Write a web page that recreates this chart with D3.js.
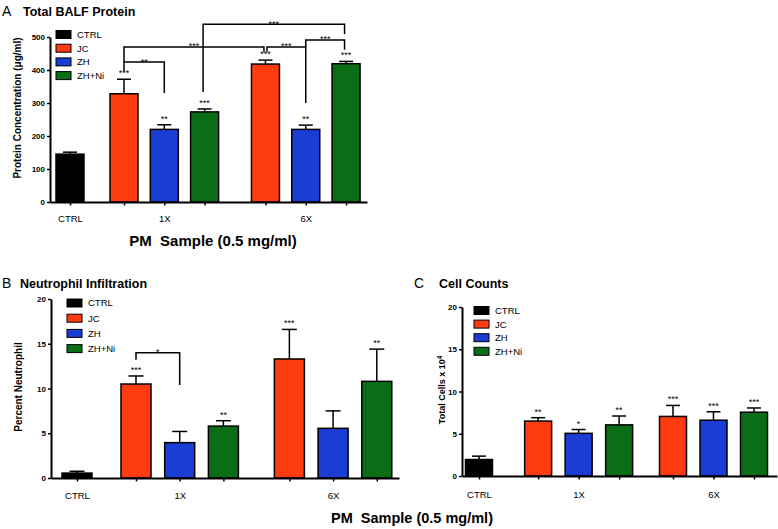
<!DOCTYPE html>
<html><head><meta charset="utf-8">
<script src="https://cdn.jsdelivr.net/npm/d3@7"></script>
<style>body{margin:0;background:#fff} svg{display:block}</style>
</head><body>
<svg id="chart" width="778" height="529"></svg>
<script>
// ---------- data ----------
const categories = ["CTRL", "JC", "ZH", "ZH+Ni"];
const groupLabels = ["CTRL", "1X", "6X"];
const barCategory = [0, 1, 2, 3, 1, 2, 3];   // category of each bar
const barGroup    = [0, 1, 1, 1, 2, 2, 2];   // group of each bar

const proteinMean  = [145, 328, 220, 273, 418, 220, 419];
const proteinSem   = [6, 44, 14, 9, 12, 13, 7];
const proteinStars = ["", "***", "**", "***", "***", "**", "***"];
const proteinTicks = [0, 100, 200, 300, 400, 500];
// [fromBar, toBar, lineValue, leftLegEnd, rightLegEnd, label]
const proteinBrackets = [
  [1, 2, 424, 397, 330, "**"],
  [1, 4, 470, 424, 455, "***"],
  [4, 5, 470, 455, 300, "***"],
  [5, 6, 491, 470, 461, "***"],
  [3, 6, 539, 333, 509, "***"]
];

const neutroMean  = [0.55, 10.5, 3.95, 5.8, 13.3, 5.55, 10.8];
const neutroSem   = [0.2, 0.9, 1.25, 0.6, 3.3, 1.95, 3.6];
const neutroStars = ["", "***", "", "**", "***", "", "**"];
const neutroTicks = [0, 5, 10, 15, 20];
const neutroBrackets = [
  [1, 2, 14.0, 13.2, 10.4, "*"]
];

const cellMean  = [1.95, 6.5, 5.05, 6.05, 7.05, 6.6, 7.55];
const cellSem   = [0.4, 0.4, 0.45, 1.05, 1.3, 1.0, 0.5];
const cellStars = ["", "**", "*", "**", "***", "***", "***"];
const cellTicks = [0, 5, 10, 15, 20];
const cellBrackets = [];

// ---------- styling ----------
const colors = ["#000000", "#ff3b10", "#1a3dd4", "#0a6e16"];
const FONT = "'Liberation Sans', Arial, Helvetica, sans-serif";

const svg = d3.select("#chart");

function drawPanel(cfg) {
  const g = svg.append("g");
  // slot position of each bar, from the group structure
  const slots = barGroup.map((grp, i) => {
    let s = i;
    if (grp >= 1) s += cfg.g1 - 1;
    if (grp >= 2) s += cfg.g2 - 1;
    return s;
  });
  const x = d3.scaleLinear()
    .domain([(cfg.axisX - cfg.x0) / cfg.unit, (cfg.axisRight - cfg.x0) / cfg.unit])
    .range([cfg.axisX, cfg.axisRight]);
  const y = d3.scaleLinear().domain([0, cfg.max]).range([cfg.y0, cfg.y1]);
  const bx = i => x(slots[i]);

  // bars
  g.selectAll("rect.bar").data(cfg.mean).join("rect")
    .attr("x", (d, i) => bx(i) - cfg.barW / 2)
    .attr("y", d => y(d))
    .attr("width", cfg.barW)
    .attr("height", d => y(0) - y(d))
    .attr("fill", (d, i) => colors[barCategory[i]])
    .attr("stroke", "#000").attr("stroke-width", 1.5);

  // error bars (upper)
  const eb = g.selectAll("g.err").data(cfg.mean).join("g");
  eb.append("line")
    .attr("x1", (d, i) => bx(i)).attr("x2", (d, i) => bx(i))
    .attr("y1", d => y(d)).attr("y2", (d, i) => y(d + cfg.sem[i]))
    .attr("stroke", "#000").attr("stroke-width", 1.5);
  eb.append("line")
    .attr("x1", (d, i) => bx(i) - cfg.cap / 2).attr("x2", (d, i) => bx(i) + cfg.cap / 2)
    .attr("y1", (d, i) => y(d + cfg.sem[i])).attr("y2", (d, i) => y(d + cfg.sem[i]))
    .attr("stroke", "#000").attr("stroke-width", 1.5);

  // stars
  g.selectAll("text.star").data(cfg.stars).join("text")
    .attr("x", (d, i) => bx(i))
    .attr("y", (d, i) => y(cfg.mean[i] + cfg.sem[i]) - 3)
    .attr("text-anchor", "middle")
    .attr("font-family", FONT).attr("font-size", 9)
    .text(d => d);

  // brackets
  cfg.brackets.forEach((b, k) => {
    const off = (cfg.legOffsets && cfg.legOffsets[k]) || [0, 0];
    const xl = bx(b[0]) + off[0], xr = bx(b[1]) + off[1];
    const yl = y(b[2]);
    g.append("path")
      .attr("d", `M${xl},${y(b[3])}V${yl}H${xr}V${y(b[4])}`)
      .attr("fill", "none").attr("stroke", "#000").attr("stroke-width", 1.5);
    g.append("text")
      .attr("x", (xl + xr) / 2).attr("y", yl + 2.5)
      .attr("text-anchor", "middle")
      .attr("font-family", FONT).attr("font-size", 9)
      .text(b[5]);
  });

  // y axis
  const ya = g.append("g").attr("transform", `translate(${cfg.axisX},0)`)
    .call(d3.axisLeft(y).tickValues(cfg.ticks).tickSize(3).tickSizeOuter(0).tickPadding(2));
  ya.select(".domain").attr("stroke-width", 2);
  ya.selectAll(".tick line").attr("stroke-width", 1.5);
  ya.selectAll("text").attr("font-family", FONT).attr("font-size", 8).attr("font-weight", "bold").attr("fill", "#000");

  // x axis
  const labelAt = {0: groupLabels[0], 2: groupLabels[1], 5: groupLabels[2]};
  const xa = g.append("g").attr("transform", `translate(0,${cfg.y0})`)
    .call(d3.axisBottom(x).tickValues(slots).tickSize(3.5).tickSizeOuter(0).tickPadding(cfg.xPad)
      .tickFormat((d, i) => labelAt[i] || ""));
  xa.select(".domain").attr("stroke-width", 2);
  xa.selectAll(".tick line").attr("stroke-width", 1.5);
  xa.selectAll("text").attr("font-family", FONT).attr("font-size", 9.5).attr("fill", "#000");

  // legend
  categories.forEach((c, i) => {
    const cy = cfg.legY + i * cfg.legStep;
    g.append("rect").attr("x", cfg.legX).attr("y", cy - 4).attr("width", 15).attr("height", 8)
      .attr("fill", colors[i]).attr("stroke", "#000").attr("stroke-width", 1);
    g.append("text").attr("x", cfg.legX + 21).attr("y", cy + 3.4)
      .attr("font-family", FONT).attr("font-size", 9.5).text(c);
  });

  // y label
  const yl = g.append("text")
    .attr("transform", `translate(${cfg.ylabX},${cfg.ylabY}) rotate(-90)`)
    .attr("text-anchor", "middle")
    .attr("font-family", FONT).attr("font-size", cfg.ylabSize).attr("font-weight", "bold");
  if (cfg.ylabSup) {
    yl.append("tspan").text(cfg.ylab);
    yl.append("tspan").attr("dy", -3.5).attr("font-size", cfg.ylabSize * 0.7).text(cfg.ylabSup);
  } else {
    yl.text(cfg.ylab);
  }

  // panel letter + title
  g.append("text").attr("x", cfg.letterX).attr("y", cfg.titleY)
    .attr("font-family", FONT).attr("font-size", 14).text(cfg.letter);
  g.append("text").attr("x", cfg.titleX).attr("y", cfg.titleY)
    .attr("font-family", FONT).attr("font-size", 12.5).attr("font-weight", "bold").text(cfg.title);
}

drawPanel({
  mean: proteinMean, sem: proteinSem, stars: proteinStars, ticks: proteinTicks,
  brackets: proteinBrackets, legOffsets: [[0, 0], [0, -1.5], [1.5, 0], [0, -1.5], [-1.5, -1.5]],
  x0: 70, unit: 40.3, g1: 1.34, g2: 1.51, axisX: 50, axisRight: 367,
  y0: 202, y1: 37, max: 500, barW: 28, cap: 14, xPad: 10,
  legX: 56, legY: 34.5, legStep: 13.7,
  ylab: "Protein Concentration (\u03bcg/ml)", ylabX: 20.5, ylabY: 108, ylabSize: 10,
  letter: "A", letterX: 2, titleX: 23, titleY: 16, title: "Total BALF Protein"
});

drawPanel({
  mean: neutroMean, sem: neutroSem, stars: neutroStars, ticks: neutroTicks,
  brackets: neutroBrackets,
  x0: 77, unit: 43.7, g1: 1.35, g2: 1.51, axisX: 51, axisRight: 399,
  y0: 478, y1: 299, max: 20, barW: 30, cap: 15, xPad: 10.5,
  legX: 67, legY: 303, legStep: 15.2,
  ylab: "Percent Neutrophil", ylabX: 22, ylabY: 387, ylabSize: 10,
  letter: "B", letterX: 2, titleX: 20, titleY: 288, title: "Neutrophil Infiltration"
});

drawPanel({
  mean: cellMean, sem: cellSem, stars: cellStars, ticks: cellTicks,
  brackets: cellBrackets,
  x0: 479, unit: 40.5, g1: 1.46, g2: 1.33, axisX: 462, axisRight: 777,
  y0: 476, y1: 307, max: 20, barW: 27, cap: 14, xPad: 12,
  legX: 474, legY: 310.5, legStep: 13.6,
  ylab: "Total Cells x 10", ylabSup: "4", ylabX: 445, ylabY: 390, ylabSize: 9,
  letter: "C", letterX: 414, titleX: 439, titleY: 288, title: "Cell Counts"
});

// shared x-axis titles
svg.append("text").attr("x", 213).attr("y", 246).attr("text-anchor", "middle")
  .attr("font-family", FONT).attr("font-size", 15).attr("font-weight", "bold")
  .style("white-space", "pre").text("PM  Sample (0.5 mg/ml)");
svg.append("text").attr("x", 412).attr("y", 523).attr("text-anchor", "middle")
  .attr("font-family", FONT).attr("font-size", 14.5).attr("font-weight", "bold")
  .style("white-space", "pre").text("PM  Sample (0.5 mg/ml)");
</script>
</body></html>
